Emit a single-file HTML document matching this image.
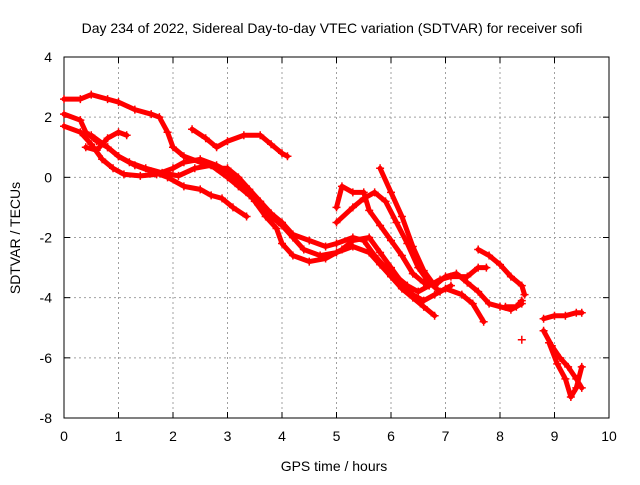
<!DOCTYPE html>
<html><head><meta charset="utf-8"><style>
body{margin:0;background:#fff;font-family:"Liberation Sans",sans-serif;}
svg text{font-family:"Liberation Sans",sans-serif;font-size:14px;fill:#000;}
</style></head><body>
<svg id="chart" width="640" height="480">
<rect width="640" height="480" fill="#fff"/>
<text x="332" y="33" text-anchor="middle">Day 234 of 2022, Sidereal Day-to-day VTEC variation (SDTVAR) for receiver sofi</text>
<g id="grid"></g><g id="axes"></g><g id="series"></g>
<text x="334" y="471" text-anchor="middle">GPS time / hours</text>
<text transform="translate(20,238) rotate(-90)" text-anchor="middle">SDTVAR / TECUs</text>
</svg>
<script>
const xTicks=[0,1,2,3,4,5,6,7,8,9,10];
const yTicks=[4,2,0,-2,-4,-6,-8];
const track1=[[0,2.6],[0.3,2.6],[0.5,2.75],[0.8,2.6],[1.0,2.5],[1.3,2.25],[1.6,2.1],[1.75,2.0],[1.9,1.5],[2.0,1.0],[2.2,0.7],[2.5,0.5],[2.8,0.3],[3.0,0.3],[3.2,0.0],[3.4,-0.4],[3.6,-0.8],[3.8,-1.2],[4.0,-1.5],[4.2,-1.9],[4.5,-2.1],[4.8,-2.3],[5.0,-2.2],[5.3,-2.0],[5.5,-2.1],[5.7,-2.6],[5.9,-3.0],[6.1,-3.3],[6.3,-3.6],[6.5,-3.8],[6.7,-3.6],[6.9,-3.4],[7.1,-3.3],[7.4,-3.3],[7.6,-3.0],[7.75,-3.0]];
const track2=[[0,2.1],[0.3,1.9],[0.4,1.5],[0.6,1.2],[0.8,1.0],[1.0,0.7],[1.2,0.5],[1.5,0.3],[1.8,0.15],[2.1,0.05],[2.4,0.3],[2.7,0.4],[3.0,0.0],[3.2,-0.3],[3.4,-0.6],[3.6,-0.9],[3.8,-1.3],[4.0,-1.6],[4.2,-2.0],[4.4,-2.4],[4.7,-2.6],[5.0,-2.5],[5.3,-2.3],[5.6,-2.5],[5.8,-2.9],[6.0,-3.3],[6.2,-3.7],[6.4,-4.0],[6.6,-4.3],[6.8,-4.6]];
const track3=[[0,1.7],[0.3,1.5],[0.5,1.1],[0.7,0.6],[0.9,0.3],[1.1,0.1],[1.4,0.05],[1.7,0.1],[2.0,0.3],[2.2,0.5],[2.5,0.6],[2.8,0.4],[3.0,0.2],[3.3,-0.3],[3.5,-0.8],[3.7,-1.3],[3.9,-1.7],[4.0,-2.2],[4.2,-2.6],[4.5,-2.8],[4.8,-2.7],[5.1,-2.4],[5.3,-2.1],[5.6,-2.0],[5.8,-2.5],[6.0,-3.0],[6.2,-3.5],[6.4,-3.9],[6.6,-4.1],[6.8,-3.9],[7.0,-3.7],[7.3,-3.9],[7.5,-4.2],[7.7,-4.8]];
const track4=[[0.4,1.0],[0.6,0.9],[0.8,1.3],[1.0,1.5],[1.15,1.4]];
const track5=[[0.5,1.4],[0.8,1.0],[1.0,0.7],[1.3,0.4],[1.6,0.2],[1.9,0.0],[2.2,-0.3],[2.5,-0.4],[2.7,-0.6],[2.9,-0.7],[3.1,-1.0],[3.35,-1.3]];
const track6=[[2.35,1.6],[2.6,1.3],[2.8,1.0],[3.0,1.2],[3.3,1.4],[3.6,1.4],[3.8,1.1],[4.0,0.8],[4.1,0.7]];
const track7=[[5.0,-1.0],[5.1,-0.3],[5.3,-0.5],[5.5,-0.5],[5.6,-1.1],[5.8,-1.6],[6.0,-2.1],[6.2,-2.6],[6.4,-3.2],[6.6,-3.5],[6.8,-3.6],[7.0,-3.3],[7.2,-3.2],[7.4,-3.5],[7.6,-3.8],[7.8,-4.2],[8.0,-4.3],[8.2,-4.4],[8.4,-4.2]];
const track8=[[5.0,-1.5],[5.3,-1.0],[5.5,-0.7],[5.7,-0.5],[5.9,-0.8],[6.1,-1.5],[6.3,-2.2],[6.5,-3.0],[6.7,-3.5],[6.9,-3.8],[7.1,-3.6]];
const track9=[[5.8,0.3],[6.0,-0.5],[6.2,-1.3],[6.4,-2.3],[6.6,-3.1],[6.8,-3.6]];
const track10=[[7.6,-2.4],[7.8,-2.6],[8.0,-2.9],[8.2,-3.3],[8.4,-3.6],[8.45,-3.9]];
const track11=[[8.1,-4.3],[8.3,-4.3],[8.4,-4.1]];
const track12=[[8.4,-5.4]];
const track13=[[8.8,-4.7],[9.0,-4.6],[9.2,-4.6],[9.4,-4.5],[9.5,-4.5]];
const track14=[[8.8,-5.1],[8.95,-5.6],[9.1,-6.0],[9.25,-6.3],[9.4,-6.7],[9.5,-7.0]];
const track15=[[8.9,-5.5],[9.05,-6.2],[9.2,-6.7],[9.3,-7.3],[9.4,-7.0],[9.5,-6.3]];
const tracks=[track1,track2,track3,track4,track5,track6,track7,track8,track9,track10,track11,track12,track13,track14,track15];

const L=64,R=609,T=57,B=418;
const xs=v=>L+(v-0)/10*(R-L);
const ys=v=>T+(4-v)/12*(B-T);
const NS="http://www.w3.org/2000/svg";
function mk(tag,attrs,parent){const e=document.createElementNS(NS,tag);for(const k in attrs)e.setAttribute(k,attrs[k]);parent.appendChild(e);return e;}
const grid=document.getElementById('grid'),axes=document.getElementById('axes'),series=document.getElementById('series');
xTicks.forEach(t=>{
  const x=xs(t);
  if(t>0&&t<10){const g=mk('line',{x1:x,x2:x,y1:T,y2:B,stroke:'#a0a0a0','stroke-dasharray':'2,3','stroke-width':1},grid);
  
  }
  const tx=mk('text',{x:x,y:B+23,'text-anchor':'middle'},axes);tx.textContent=t;
  
  
  mk('line',{x1:x,x2:x,y1:B,y2:B-6,stroke:'#000'},axes);
  mk('line',{x1:x,x2:x,y1:T,y2:T+6,stroke:'#000'},axes);
});
yTicks.forEach(t=>{
  const y=ys(t);
  if(t<4&&t>-8){const g=mk('line',{x1:L,x2:R,y1:y,y2:y,stroke:'#a0a0a0','stroke-dasharray':'2,3','stroke-width':1},grid);
  
  }
  const tx=mk('text',{x:L-12,y:y+5,'text-anchor':'end'},axes);tx.textContent=t;
  
  
  mk('line',{x1:L,x2:L+6,y1:y,y2:y,stroke:'#000'},axes);
  mk('line',{x1:R,x2:R-6,y1:y,y2:y,stroke:'#000'},axes);
});
const frame=mk('rect',{x:L,y:T,width:R-L,height:B-T,fill:'none',stroke:'#000'},axes);


tracks.forEach((tr,i)=>{
  const pts=tr.map(p=>xs(p[0])+','+ys(p[1])).join(' ');
  const pl=mk('polyline',{points:pts,fill:'none',stroke:'#ff0000','stroke-width':5,'stroke-linejoin':'round','stroke-linecap':'round'},series);
  
  
  tr.forEach(p=>{
    const x=xs(p[0]),y=ys(p[1]);
    const m=mk('path',{d:`M${x-4},${y}H${x+4}M${x},${y-4}V${y+4}`,stroke:'#ff0000','stroke-width':1.5},series);
    
    
  });
});
</script>
</body></html>
